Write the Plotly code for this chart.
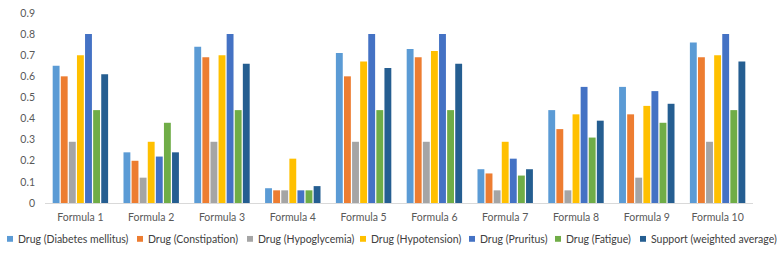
import plotly.graph_objects as go

categories = ["Formula 1", "Formula 2", "Formula 3", "Formula 4", "Formula 5",
              "Formula 6", "Formula 7", "Formula 8", "Formula 9", "Formula 10"]

diabetes = [0.65, 0.24, 0.74, 0.07, 0.71, 0.73, 0.16, 0.44, 0.55, 0.76]
constipation = [0.60, 0.20, 0.69, 0.06, 0.60, 0.69, 0.14, 0.35, 0.42, 0.69]
hypoglycemia = [0.29, 0.12, 0.29, 0.06, 0.29, 0.29, 0.06, 0.06, 0.12, 0.29]
hypotension = [0.70, 0.29, 0.70, 0.21, 0.67, 0.72, 0.29, 0.42, 0.46, 0.70]
pruritus = [0.80, 0.22, 0.80, 0.06, 0.80, 0.80, 0.21, 0.55, 0.53, 0.80]
fatigue = [0.44, 0.38, 0.44, 0.06, 0.44, 0.44, 0.13, 0.31, 0.38, 0.44]
support = [0.61, 0.24, 0.66, 0.08, 0.64, 0.66, 0.16, 0.39, 0.47, 0.67]

series_names = ["Drug (Diabetes mellitus)", "Drug (Constipation)", "Drug (Hypoglycemia)",
                "Drug (Hypotension)", "Drug (Pruritus)", "Drug (Fatigue)",
                "Support (weighted average)"]
series_values = [diabetes, constipation, hypoglycemia, hypotension, pruritus, fatigue, support]
colors = ["#5B9BD5", "#ED7D31", "#A5A5A5", "#FFC000", "#4472C4", "#70AD47", "#255E91"]

# layout geometry (pixels)
W, H = 778, 255
L, R, T, B = 45, 25, 7, 52
PW, PH = W - L - R, H - T - B

fig = go.Figure()
for name, vals, color in zip(series_names, series_values, colors):
    fig.add_trace(go.Bar(x=categories, y=vals, name=name, marker_color=color,
                         marker_line_width=0, showlegend=False))

# custom single-row legend (squares + text), positioned in pixels
legend_left_px = [7, 137, 247, 360, 469, 555, 640]
legend_y_px = 240
sq = 6
def px_x(p):
    return (p - L) / PW
def px_y(p):
    return (H - B - p) / PH

shapes = []
annotations = []
for name, color, lx in zip(series_names, colors, legend_left_px):
    shapes.append(dict(type="rect", xref="paper", yref="paper",
                       x0=px_x(lx), x1=px_x(lx + sq),
                       y0=px_y(legend_y_px + sq / 2), y1=px_y(legend_y_px - sq / 2),
                       fillcolor=color, line=dict(width=0)))
    annotations.append(dict(xref="paper", yref="paper", x=px_x(lx + sq + 2.5),
                            y=px_y(legend_y_px), xanchor="left", yanchor="middle",
                            text=name, showarrow=False,
                            font=dict(family="Lato, Open Sans, sans-serif", size=10.5,
                                      color="#404040")))

font = dict(family="Lato, Open Sans, sans-serif", size=10.5, color="#595959")
fig.update_layout(
    width=W, height=H,
    margin=dict(l=L, r=R, t=T, b=B),
    paper_bgcolor="white", plot_bgcolor="white",
    barmode="group", bargap=0.2, bargroupgap=0.15,
    font=font,
    showlegend=False,
    shapes=shapes,
    annotations=annotations,
    xaxis=dict(showline=True, linecolor="#D9D9D9", linewidth=1, ticks="",
               showgrid=False, ticklabelstandoff=4,
               tickfont=dict(size=10.5, color="#595959")),
    yaxis=dict(range=[0, 0.9], dtick=0.1, showgrid=False, zeroline=False,
               showline=False, tickformat="~g", ticklabelstandoff=9,
               tickfont=dict(size=10.5, color="#595959")),
)

fig.write_html("out.html")
